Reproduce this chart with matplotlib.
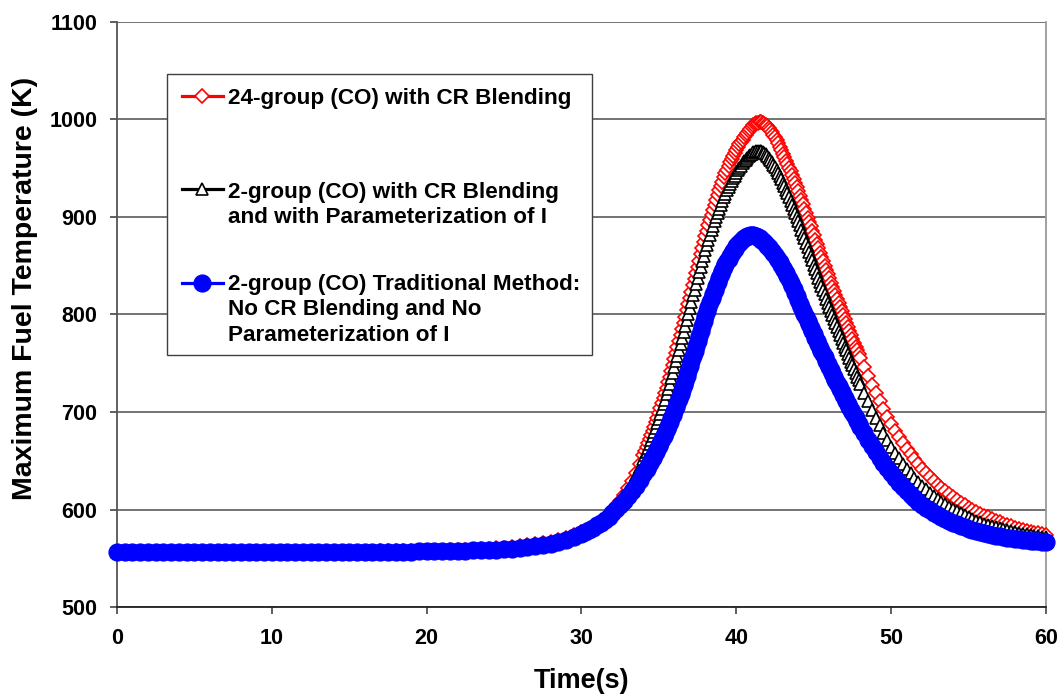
import numpy as np
import matplotlib
matplotlib.use("Agg")
import matplotlib.pyplot as plt
from matplotlib.patches import Rectangle

plt.rcParams["font.family"] = ["Liberation Sans", "DejaVu Sans"]
plt.rcParams["font.weight"] = "bold"

# Sample times (s): coarse on the flat part, fine across the power excursion
time_s = np.concatenate([
    np.arange(0, 30, 0.5),
    np.arange(30, 34, 0.25),
    np.arange(340, 480) / 10.0,
    np.arange(48, 60.001, 0.25),
])

# Maximum fuel temperature (K)
t24_cr_blend = [
    556.3, 556.3, 556.3, 556.3, 556.3, 556.3, 556.3, 556.3, 556.3, 556.4,
    556.4, 556.4, 556.4, 556.4, 556.4, 556.4, 556.5, 556.5, 556.5, 556.5,
    556.5, 556.5, 556.6, 556.6, 556.6, 556.6, 556.7, 556.7, 556.7, 556.8,
    556.8, 556.8, 556.9, 556.9, 557.0, 557.0, 557.1, 557.2, 557.3, 557.4,
    557.5, 557.7, 557.9, 558.1, 558.3, 558.6, 558.9, 559.2, 559.6, 560.1,
    560.7, 561.4, 562.2, 563.2, 564.3, 565.6, 567.1, 568.9, 571.0, 573.5,
    576.5, 578.2, 580.1, 582.3, 584.8, 587.6, 590.8, 594.5, 598.7, 603.5,
    608.9, 615.0, 621.8, 629.3, 637.5, 646.5,
    656.0,
    659.8, 663.7, 667.7, 671.8, 676.0,
    680.4, 684.9, 689.5, 694.2, 699.0,
    704.0, 709.1, 714.3, 719.6, 725.0,
    730.6, 736.3, 742.1, 748.0, 754.0,
    760.1, 766.3, 772.5, 778.7, 785.0,
    791.4, 797.8, 804.2, 810.6, 817.0,
    823.5, 829.9, 836.3, 842.7, 849.0,
    855.3, 861.6, 867.8, 873.9, 880.0,
    885.9, 891.6, 897.1, 902.4, 907.5,
    912.6, 917.6, 922.5, 927.3, 932.0,
    936.4, 940.6, 944.7, 948.7, 952.5,
    956.1, 959.5, 962.8, 966.0, 969.0,
    971.8, 974.4, 976.9, 979.3, 981.6,
    984.0, 986.3, 988.5, 990.5, 992.3,
    993.9, 995.2, 996.2, 996.8, 997.1,
    997.0, 996.5, 995.7, 994.6, 993.2,
    991.5, 989.5, 987.2, 984.6, 981.8,
    978.8, 975.6, 972.2, 968.6, 965.0,
    961.4, 957.9, 954.3, 950.6, 946.8,
    942.9, 938.9, 934.8, 930.6, 926.3,
    921.9, 917.4, 912.9, 908.4, 903.9,
    899.4, 894.9, 890.4, 885.9, 881.4,
    876.9, 872.4, 867.9, 863.4, 858.9,
    854.5, 850.1, 845.7, 841.3, 837.0,
    832.7, 828.4, 824.1, 819.9, 815.7,
    811.5, 807.3, 803.2, 799.1, 795.0,
    790.9, 786.9, 782.9, 778.9, 774.9,
    770.9, 767.0, 763.1, 759.2,
    755.5, 746.1, 737.0, 728.1, 719.5, 711.1, 703.0, 695.1, 687.5,
    680.6, 674.1, 667.9, 662.1, 656.6, 651.4, 646.4, 641.8,
    637.3, 633.2, 629.2, 625.5, 621.9, 618.6, 615.4, 612.4,
    609.6, 606.9, 604.4, 602.0, 599.7, 597.6, 595.5, 593.6,
    591.8, 590.1, 588.4, 586.9, 585.4, 584.1, 582.8, 581.5,
    580.4, 579.3, 578.2, 577.2, 576.3, 575.4, 574.6, 573.8,
]

t2_cr_blend_param = [
    556.2, 556.2, 556.2, 556.2, 556.2, 556.2, 556.2, 556.2, 556.2, 556.3,
    556.3, 556.3, 556.3, 556.3, 556.3, 556.3, 556.4, 556.4, 556.4, 556.4,
    556.4, 556.4, 556.5, 556.5, 556.5, 556.5, 556.6, 556.6, 556.6, 556.7,
    556.7, 556.7, 556.8, 556.8, 556.9, 556.9, 557.0, 557.1, 557.2, 557.3,
    557.4, 557.6, 557.8, 558.0, 558.2, 558.4, 558.7, 559.1, 559.5, 560.0,
    560.6, 561.3, 562.1, 563.1, 564.2, 565.5, 567.0, 568.8, 570.9, 573.4,
    576.4, 578.0, 579.8, 581.9, 584.3, 587.0, 590.1, 593.7, 597.8, 602.5,
    607.8, 613.7, 620.2, 627.3, 635.0, 643.3,
    652.0,
    655.6, 659.3, 663.1, 667.0, 671.0,
    675.2, 679.5, 683.9, 688.4, 693.0,
    697.8, 702.7, 707.7, 712.8, 718.0,
    723.4, 728.9, 734.5, 740.2, 746.0,
    751.9, 757.9, 763.9, 769.9, 776.0,
    782.2, 788.4, 794.6, 800.8, 807.0,
    813.3, 819.5, 825.6, 831.6, 837.5,
    843.4, 849.2, 854.9, 860.5, 866.0,
    871.3, 876.5, 881.5, 886.3, 891.0,
    895.5, 899.9, 904.2, 908.4, 912.5,
    916.4, 920.1, 923.7, 927.2, 930.5,
    933.7, 936.7, 939.6, 942.4, 945.0,
    947.7, 950.3, 952.7, 954.9, 957.0,
    958.9, 960.7, 962.3, 963.8, 965.1,
    966.2, 967.0, 967.5, 967.7, 967.6,
    967.2, 966.5, 965.5, 964.2, 962.6,
    960.7, 958.6, 956.3, 953.8, 951.1,
    948.2, 945.1, 941.9, 938.6, 935.2,
    931.7, 928.1, 924.4, 920.6, 916.7,
    912.7, 908.6, 904.4, 900.2, 895.9,
    891.5, 887.1, 882.6, 878.1, 873.6,
    869.1, 864.6, 860.1, 855.6, 851.1,
    846.7, 842.3, 837.9, 833.5, 829.2,
    824.9, 820.6, 816.3, 812.1, 807.9,
    803.7, 799.5, 795.4, 791.3, 787.2,
    783.1, 779.1, 775.1, 771.1, 767.1,
    763.2, 759.3, 755.4, 751.5, 747.7,
    743.9, 740.1, 736.3, 732.5,
    728.8, 719.7, 710.9, 702.4, 694.2, 686.3, 678.7, 671.4, 664.4,
    658.3, 652.5, 647.1, 642.0, 637.2, 632.7, 628.5, 624.5,
    620.8, 617.3, 614.0, 610.9, 608.0, 605.3, 602.7, 600.3,
    598.0, 595.9, 593.9, 592.1, 590.3, 588.6, 587.1, 585.6,
    584.3, 583.0, 581.8, 580.6, 579.6, 578.6, 577.6, 576.7,
    575.9, 575.1, 574.4, 573.7, 573.0, 572.4, 571.9, 571.3,
]

t2_traditional = [
    556.0, 556.0, 556.0, 556.0, 556.0, 556.0, 556.0, 556.0, 556.0, 556.1,
    556.1, 556.1, 556.1, 556.1, 556.1, 556.1, 556.2, 556.2, 556.2, 556.2,
    556.2, 556.3, 556.3, 556.3, 556.3, 556.4, 556.4, 556.4, 556.5, 556.5,
    556.5, 556.6, 556.6, 556.7, 556.7, 556.8, 556.8, 556.9, 556.9, 557.0,
    557.1, 557.2, 557.3, 557.45, 557.6, 557.8, 558.0, 558.25, 558.5, 558.85,
    559.3, 559.85, 560.5, 561.3, 562.3, 563.5, 565.0, 566.8, 568.9, 571.5,
    574.8, 576.7, 578.8, 581.1, 583.7, 586.5, 589.5, 592.8, 596.4, 600.3,
    604.5, 609.0, 613.8, 619.0, 624.6, 630.6,
    636.8,
    639.3, 641.9, 644.6, 647.4, 650.3,
    653.2, 656.2, 659.2, 662.2, 665.3,
    668.5, 671.8, 675.2, 678.7, 682.3,
    685.9, 689.6, 693.4, 697.3, 701.3,
    705.3, 709.5, 713.8, 718.3, 722.8,
    727.4, 732.1, 736.9, 741.8, 746.8,
    751.9, 757.1, 762.3, 767.6, 772.8,
    778.1, 783.3, 788.4, 793.4, 798.3,
    803.2, 807.9, 812.5, 817.0, 821.3,
    825.5, 829.6, 833.6, 837.5, 841.3,
    844.9, 848.3, 851.5, 854.5, 857.3,
    860.0, 862.6, 865.1, 867.5, 869.8,
    871.9, 873.8, 875.5, 877.0, 878.3,
    879.4, 880.3, 880.9, 881.3, 881.4,
    881.3, 880.9, 880.2, 879.3, 878.2,
    876.9, 875.5, 874.0, 872.4, 870.7,
    868.9, 867.0, 865.0, 862.9, 860.7,
    858.4, 856.0, 853.5, 850.9, 848.2,
    845.4, 842.5, 839.5, 836.3, 832.8,
    829.3, 825.7, 822.1, 818.5, 814.8,
    811.2, 807.6, 804.1, 800.5, 797.0,
    793.5, 790.0, 786.5, 783.0, 779.5,
    776.1, 772.7, 769.3, 765.9, 762.5,
    759.2, 755.9, 752.6, 749.3, 746.0,
    742.8, 739.6, 736.4, 733.2, 730.0,
    726.9, 723.8, 720.7, 717.6, 714.5,
    711.5, 708.5, 705.5, 702.5, 699.5,
    696.6, 693.7, 690.8, 687.9,
    685.0, 678.1, 671.5, 665.1, 659.0, 653.1, 647.5, 642.2, 637.0,
    631.9, 627.2, 622.8, 618.7, 614.9, 611.3, 607.9, 604.8,
    601.9, 599.2, 596.7, 594.4, 592.2, 590.1, 588.2, 586.5,
    584.8, 583.3, 581.8, 580.5, 579.2, 578.1, 577.0, 576.0,
    575.0, 574.2, 573.3, 572.6, 571.9, 571.2, 570.6, 570.0,
    569.4, 568.9, 568.5, 568.0, 567.6, 567.3, 566.9, 566.6,
]

series_labels = [
    ["24-group (CO) with CR Blending"],
    ["2-group (CO) with CR Blending", "and with Parameterization of I"],
    ["2-group (CO) Traditional Method:", "No CR Blending and No",
     "Parameterization of I"],
]
x_ticks = [0, 10, 20, 30, 40, 50, 60]
y_ticks = [500, 600, 700, 800, 900, 1000, 1100]

styles = [
    dict(color="#FF0000", marker="D", markersize=7.0, markerfacecolor="white",
         markeredgecolor="#FF0000", markeredgewidth=1.2, linewidth=2.3),
    dict(color="#000000", marker="^", markersize=8.6, markerfacecolor="white",
         markeredgecolor="#000000", markeredgewidth=1.2, linewidth=2.3),
    dict(color="#0000FF", marker="o", markersize=12.3, markerfacecolor="#0000FF",
         markeredgecolor="#0000FF", markeredgewidth=0.8, linewidth=2.3),
]

fig = plt.figure(figsize=(10.58, 6.96), dpi=100)
ax = fig.add_axes([117 / 1058, 89 / 696, 929 / 1058, 585 / 696])

for values, st in zip([t24_cr_blend, t2_cr_blend_param, t2_traditional], styles):
    assert len(values) == len(time_s)
    ax.plot(time_s, values, clip_on=False, zorder=3, **st)

ax.set_xlim(0, 60)
ax.set_ylim(500, 1100)
ax.set_xticks(x_ticks)
ax.set_yticks(y_ticks)
ax.set_axisbelow(True)
ax.yaxis.grid(True, color="#4d4d4d", linewidth=1.1)
ax.xaxis.grid(False)

ax.spines["top"].set_visible(False)
ax.spines["left"].set_color("#555555")
ax.spines["left"].set_linewidth(1.3)
ax.spines["bottom"].set_color("#222222")
ax.spines["bottom"].set_linewidth(1.3)
ax.spines["right"].set_color("#9a9a9a")
ax.spines["right"].set_linewidth(1.3)

ax.tick_params(axis="both", direction="out", length=5, width=1.2,
               color="#444444", labelsize=15.5)
ax.tick_params(axis="y", pad=9)
ax.tick_params(axis="x", pad=10)

ax.set_xlabel("Time(s)", fontsize=19.5, fontweight="bold")
ax.xaxis.set_label_coords(0.5, -0.127)
ax.xaxis.label.set_va("center")
ax.set_ylabel("Maximum Fuel Temperature (K)", fontsize=20.5, fontweight="bold")
ax.yaxis.set_label_coords(-0.099, 0.545)
ax.yaxis.label.set_va("center")

# Legend drawn as a framed box with each entry aligned to its first text line
box = Rectangle((0.0538, 0.4308), 0.4575, 0.4803, transform=ax.transAxes,
                facecolor="white", edgecolor="#404040", linewidth=1.0,
                zorder=5, clip_on=False)
ax.add_patch(box)

handle_y = [0.8730, 0.7145, 0.5544]
text_baselines = [[0.8593], [0.6986, 0.6569], [0.5419, 0.4991, 0.4552]]
for st, hy, lines, bases in zip(styles, handle_y, series_labels, text_baselines):
    line_style = {k: v for k, v in st.items() if not k.startswith("marker")}
    ax.plot([0.0696, 0.1141], [hy, hy], transform=ax.transAxes,
            clip_on=False, zorder=6, **line_style)
    ax.plot([0.0918], [hy], transform=ax.transAxes, clip_on=False, zorder=7,
            linestyle="none", **{k: v for k, v in st.items()
                                 if k.startswith("marker")})
    for txt, by in zip(lines, bases):
        ax.text(0.1195, by, txt, transform=ax.transAxes, fontsize=16.2,
                fontweight="bold", va="baseline", ha="left", zorder=7)

fig.savefig("out.png", dpi=100)
